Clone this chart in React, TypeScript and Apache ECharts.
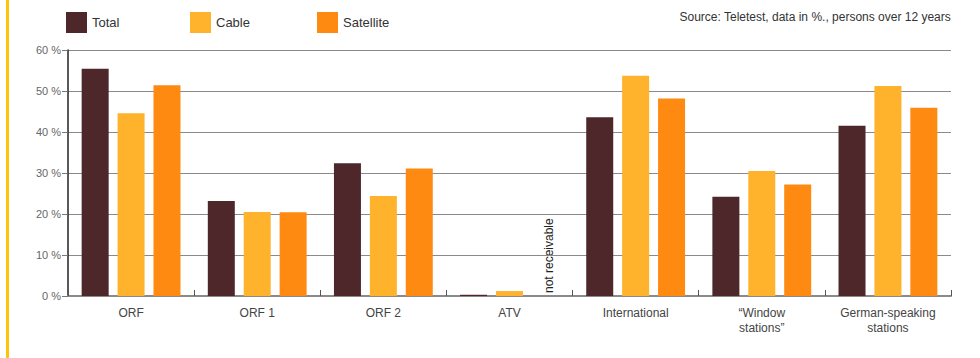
import React, { useEffect, useRef } from "react";
import * as echarts from "echarts";

const categories = [
  "ORF",
  "ORF 1",
  "ORF 2",
  "ATV",
  "International",
  "\u201CWindow\nstations\u201D",
  "German-speaking\nstations",
];
const seriesNames = ["Total", "Cable", "Satellite"];
const totalValues = [55.4, 23.2, 32.4, 0.3, 43.6, 24.2, 41.5];
const cableValues = [44.6, 20.5, 24.4, 1.2, 53.7, 30.5, 51.2];
const satelliteValues: (number | null)[] = [51.4, 20.4, 31.1, null, 48.2, 27.2, 45.9];
const yTicks = { min: 0, max: 60, interval: 10 };
const sourceNote = "Source: Teletest, data in %., persons over 12 years";
const notReceivable = "not receivable";

const FONT = "'Liberation Sans Narrow', 'Liberation Sans', Arial, sans-serif";
const legendLefts = [66, 190, 317];

export default function App() {
  const ref = useRef<HTMLDivElement>(null);
  useEffect(() => {
    if (!ref.current) return;
    const chart = echarts.init(ref.current, null, { renderer: "svg" });
    chart.setOption({
      animation: false,
      backgroundColor: "#ffffff",
      textStyle: { fontFamily: FONT },
      legend: seriesNames.map((name, i) => ({
        left: legendLefts[i],
        top: 12,
        padding: 0,
        itemWidth: 21,
        itemHeight: 21,
        itemGap: 6,
        icon: "rect",
        textStyle: { fontSize: 13, color: "#333", fontFamily: FONT },
        data: [name],
      })),
      grid: { left: 68, right: 29, top: 50, bottom: 62 },
      xAxis: {
        type: "category",
        data: categories,
        axisLine: { lineStyle: { color: "#8a8a8a", width: 2 } },
        axisTick: { show: true, inside: true, length: 6, lineStyle: { color: "#555", width: 1 } },
        axisLabel: { fontSize: 12, color: "#444", margin: 9, lineHeight: 15, fontFamily: FONT },
      },
      yAxis: {
        type: "value",
        min: yTicks.min,
        max: yTicks.max,
        interval: yTicks.interval,
        axisLine: { show: true, lineStyle: { color: "#222", width: 1.5 } },
        axisTick: { show: true, length: 6, lineStyle: { color: "#777" } },
        axisLabel: { formatter: "{value} %", fontSize: 11, color: "#666", margin: 7, fontFamily: FONT },
        splitLine: { show: true, lineStyle: { color: "#8a8a8a", width: 1 } },
      },
      graphic: [
        {
          type: "rect",
          left: 6,
          top: 0,
          shape: { width: 3, height: 358 },
          style: { fill: "#ffc20e" },
        },
        {
          type: "text",
          right: 29,
          top: 11,
          style: { text: sourceNote, font: `12px ${FONT}`, fill: "#333" },
        },
        {
          type: "text",
          x: 549,
          y: 293,
          rotation: Math.PI / 2,
          style: {
            text: notReceivable,
            font: `12px ${FONT}`,
            fill: "#222",
            align: "left",
            verticalAlign: "middle",
          },
        },
      ],
      series: [
        {
          name: seriesNames[0],
          type: "bar",
          data: totalValues,
          barWidth: 27,
          barGap: "33%",
          itemStyle: { color: "#4e272b" },
        },
        {
          name: seriesNames[1],
          type: "bar",
          data: cableValues,
          barWidth: 27,
          barGap: "33%",
          itemStyle: { color: "#ffb22c" },
        },
        {
          name: seriesNames[2],
          type: "bar",
          data: satelliteValues,
          barWidth: 27,
          barGap: "33%",
          itemStyle: { color: "#ff8a12" },
        },
      ],
    });
    return () => chart.dispose();
  }, []);
  return <div ref={ref} style={{ width: 980, height: 358, position: "absolute", left: 0, top: 0 }} />;
}
